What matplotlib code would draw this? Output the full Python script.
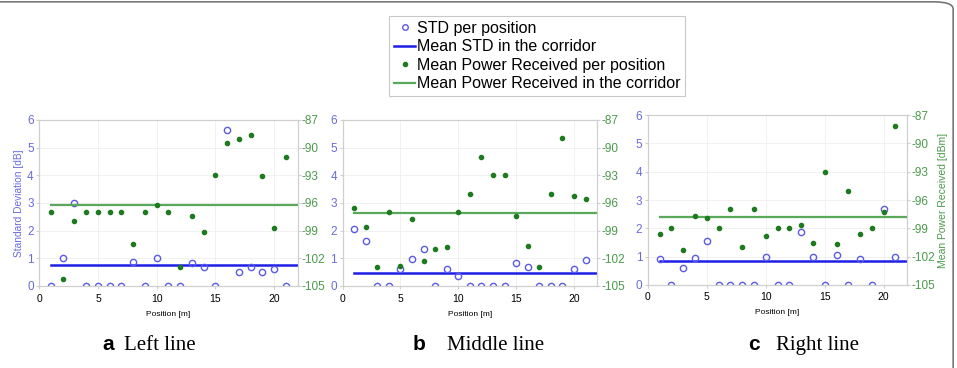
import matplotlib
matplotlib.use("Agg")
import matplotlib.pyplot as plt
from matplotlib.lines import Line2D
from matplotlib.patches import FancyBboxPatch

positions = list(range(1, 22))

std_left = [0, 1.0, 3.0, 0, 0, 0, 0, 0.87, 0, 1.0, 0, 0, 0.82, 0.7, 0, 5.62, 0.52, 0.7, 0.52, 0.61, 0]
pow_left = [-97, -104.2, -98, -97, -97, -97, -97, -100.5, -97, -96.2, -97, -103, -97.4, -99.2,
            -93, -89.5, -89.1, -88.6, -93.1, -98.7, -91]
mean_std_left = 0.76
mean_pow_left = -96.2

std_mid = [2.05, 1.61, 0, 0, 0.6, 0.99, 1.34, 0, 0.6, 0.37, 0, 0, 0, 0, 0.82, 0.7, 0, 0, 0, 0.6, 0.94]
pow_mid = [-96.5, -98.6, -103, -97, -102.8, -97.7, -102.3, -101, -100.8, -97, -95, -91, -93, -93,
           -97.4, -100.7, -103, -95, -89, -95.2, -95.6]
mean_std_mid = 0.48
mean_pow_mid = -97.05

std_right = [0.93, 0, 0.61, 0.96, 1.56, 0, 0, 0, 0, 1.0, 0, 0, 1.86, 1.0, 0, 1.04, 0, 0.93, 0, 2.68, 1.0]
pow_right = [-99.6, -99, -101.3, -97.7, -97.9, -99, -97, -101, -97, -99.8, -99, -99, -98.6, -100.6,
             -93, -100.7, -95, -99.6, -99, -97.3, -88.2]
mean_std_right = 0.85
mean_pow_right = -97.8

x_ticks = [0, 5, 10, 15, 20]
std_ticks = [0, 1, 2, 3, 4, 5, 6]
pow_ticks = [-105, -102, -99, -96, -93, -90, -87]

legend_labels = ["STD per position", "Mean STD in the corridor",
                 "Mean Power Received per position", "Mean Power Received in the corridor"]
captions = [("a", "Left line"), ("b", "Middle line"), ("c", "Right line")]

BLUE_M = "#5a5ae6"
BLUE_L = "#1e1ee6"
GREEN_M = "#1e7a1e"
GREEN_L = "#5aa85a"
BLUE_T = "#6a6ae0"
GREEN_T = "#4a9a4a"
SPINE = "#cfcfcf"

plt.rcParams['font.family'] = ['Liberation Sans', 'DejaVu Sans']
plt.rcParams['axes.unicode_minus'] = False
fig = plt.figure(figsize=(9.57, 3.68), dpi=100)

panels = [
    ([0.041, 0.223, 0.270, 0.451], std_left, pow_left, mean_std_left, mean_pow_left),
    ([0.358, 0.223, 0.266, 0.451], std_mid, pow_mid, mean_std_mid, mean_pow_mid),
    ([0.677, 0.226, 0.271, 0.461], std_right, pow_right, mean_std_right, mean_pow_right),
]

for i, (rect, std, pw, mstd, mpw) in enumerate(panels):
    ax = fig.add_axes(rect)
    ax2 = ax.twinx()
    ax.set_xlim(0, 22)
    ax.set_ylim(0, 6)
    ax2.set_ylim(-105, -87)
    ax.set_xticks(x_ticks)
    ax.set_yticks(std_ticks)
    ax2.set_yticks(pow_ticks)
    ax.grid(True, color="#efefef", lw=0.6)
    ax.set_axisbelow(True)
    ax.plot(positions, std, linestyle="none", marker="o", markersize=4.5,
            markerfacecolor="none", markeredgecolor=BLUE_M, markeredgewidth=1.0, zorder=3)
    ax.plot([positions[0], 22], [mstd, mstd], color=BLUE_L, lw=1.8, zorder=2)
    ax2.plot(positions, pw, linestyle="none", marker="o", markersize=3,
             color=GREEN_M, zorder=3)
    ax2.plot([positions[0], 22], [mpw, mpw], color=GREEN_L, lw=1.6, zorder=2)
    for a in (ax, ax2):
        for s in a.spines.values():
            s.set_color(SPINE)
            s.set_linewidth(0.8)
    ax.tick_params(axis="x", labelsize=7.5, colors="black", length=2, color=SPINE)
    ax.tick_params(axis="y", labelsize=8.5, labelcolor=BLUE_T, length=2, color=SPINE, pad=2)
    ax2.tick_params(axis="y", labelsize=8.5, labelcolor=GREEN_T, length=2, color=SPINE, pad=1)
    ax.set_xlabel("Position [m]", fontsize=6, labelpad=5)
    if i == 0:
        ax.set_ylabel("Standard Deviation [dB]", fontsize=7.3, color=BLUE_T, labelpad=2)
    if i == 2:
        ax2.set_ylabel("Mean Power Received [dBm]", fontsize=7.5, color=GREEN_T, labelpad=2)

handles = [
    Line2D([], [], linestyle="none", marker="o", markersize=4, markerfacecolor="none",
           markeredgecolor=BLUE_M),
    Line2D([], [], color=BLUE_L, lw=1.8),
    Line2D([], [], linestyle="none", marker="o", markersize=3, color=GREEN_M),
    Line2D([], [], color=GREEN_L, lw=1.6),
]
leg = fig.legend(handles, legend_labels, loc="upper left", bbox_to_anchor=(0.407, 0.957),
                 fontsize=11.5, frameon=True, fancybox=False, handlelength=1.3,
                 handletextpad=0.1, labelspacing=0.22, borderpad=0.3, borderaxespad=0)
leg.get_frame().set_edgecolor("#bbbbbb")
leg.get_frame().set_linewidth(0.8)

cap_pos = [(0.107, 0.130), (0.431, 0.467), (0.782, 0.811)]
for (letter, text), (xl, xt) in zip(captions, cap_pos):
    fig.text(xl, 0.05, letter, fontsize=15, fontweight="bold", family="Liberation Sans",
             ha="left", va="baseline")
    fig.text(xt, 0.05, text, fontsize=15, family="Liberation Serif", ha="left", va="baseline")

border = FancyBboxPatch((-0.02, -0.05), 1.016, 1.045, boxstyle="round,pad=0,rounding_size=0.02",
                        transform=fig.transFigure, fill=False, edgecolor="#777777", lw=1.2)
fig.patches.append(border)

fig.savefig("out.png", dpi=100)
